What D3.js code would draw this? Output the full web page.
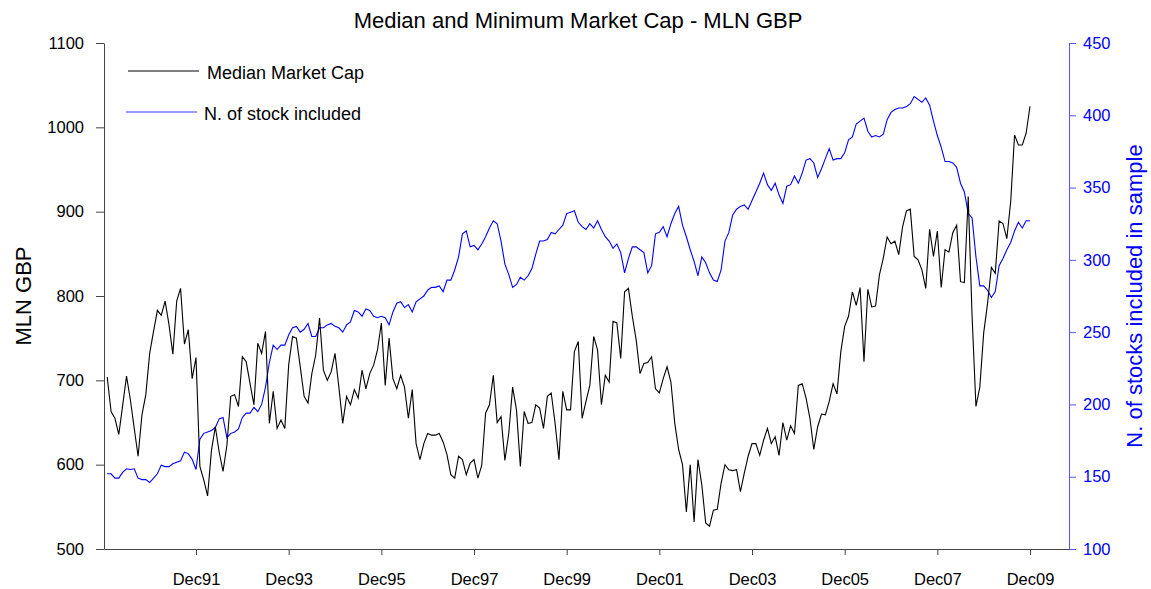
<!DOCTYPE html>
<html>
<head>
<meta charset="utf-8">
<script src="https://cdn.jsdelivr.net/npm/d3@7"></script>
<style>
  body { margin: 0; background: #fff; }
  svg { font-family: "Liberation Sans", Arial, Helvetica, sans-serif; }
</style>
</head>
<body>
<div id="chart"></div>
<script>
// monthly observations, Jan 1990 .. Dec 2009 (index 1 = Jan90, 24 = Dec91)
const medianCap = [
  704, 663, 655, 636, 670, 705, 677, 643, 610, 659, 683, 732,
  758, 783, 777, 794, 766, 731, 794, 809, 743, 760, 702, 727,
  598, 582, 563, 617, 645, 615, 592, 623, 681, 683, 669, 728,
  722, 696, 671, 744, 732, 758, 649, 687, 643, 653, 643, 718,
  752, 750, 716, 681, 673, 708, 730, 774, 712, 700, 710, 732,
  692, 649, 681, 671, 689, 679, 712, 690, 708, 718, 736, 768,
  694, 750, 702, 690, 706, 692, 655, 689, 625, 606, 625, 637,
  635, 635, 637, 627, 612, 588, 584, 610, 606, 588, 602, 606,
  584, 599, 661, 671, 706, 650, 657, 605, 637, 692, 665, 598,
  663, 649, 650, 671, 667, 643, 681, 685, 649, 606, 687, 665,
  665, 734, 746, 655, 675, 694, 752, 736, 671, 706, 698, 770,
  768, 726, 805, 809, 776, 748, 708, 720, 721, 728, 690, 685,
  702, 716, 698, 649, 618, 600, 544, 600, 532, 606, 576, 531,
  527, 546, 547, 578, 600, 594, 593, 594, 568, 590, 610, 625,
  625, 611, 629, 643, 625, 633, 611, 650, 629, 646, 637, 694,
  696, 679, 655, 618, 645, 660, 659, 675, 696, 684, 734, 764,
  776, 805, 789, 810, 722, 808, 787, 788, 825, 845, 870, 862,
  865, 849, 882, 901, 903, 847, 843, 831, 809, 879, 847, 877,
  810, 855, 852, 875, 884, 817, 816, 918, 776, 669, 692, 756,
  791, 834, 827, 889, 886, 868, 912, 991, 979, 979, 993, 1025
];

const stocksIncluded = [
  152, 152, 149, 149, 153, 155.5, 155, 155.5, 149, 148, 148, 146,
  149, 152, 158, 157, 157, 159, 160, 161, 167, 166, 162, 155,
  176, 180, 181, 182, 184, 190, 191, 177, 180, 181, 183, 191,
  194, 194, 198, 195, 200, 212, 229, 241, 238, 241, 241, 248,
  253, 254, 250, 252, 256, 247, 247, 253, 253, 255, 256, 254,
  253, 250, 255, 257, 265, 264, 261, 266, 265, 261, 260, 261,
  260, 255, 264, 270, 271, 267, 269, 264, 271, 273, 275, 279,
  281, 281, 282, 278, 286, 286, 293, 302, 318, 320, 309, 310,
  307, 311, 316, 322, 327, 325, 313, 297, 290, 281, 283, 288,
  286, 289, 294, 304, 313, 313, 314, 319, 318, 321, 324, 332,
  333, 334, 326, 323, 321, 325, 322, 327, 321, 316, 313, 308,
  311, 305, 291, 301, 309, 309, 307, 305, 291, 296, 318, 319,
  323, 316, 325, 332, 337, 324, 316, 307, 299, 289, 302, 298,
  291, 286, 285, 293, 313, 319, 331, 335, 337, 338, 335, 341,
  347, 353, 360, 352, 348, 353, 345, 339, 351, 352, 358, 353,
  360, 369, 370, 367, 357, 363, 370, 377, 369, 370, 370, 374,
  383, 385, 394, 396, 398, 389, 385, 386, 385, 387, 397, 402,
  404, 405, 405, 406, 408, 413, 411, 409, 412, 407, 396, 386,
  378, 368, 368, 367, 364, 353, 347, 332, 329, 302, 282, 282,
  279, 274, 278, 296, 301, 307, 312, 320, 326, 322, 327, 327
];

const xTickIndex = [24, 48, 72, 96, 120, 144, 168, 192, 216, 240];
const xTickLabels = ["Dec91", "Dec93", "Dec95", "Dec97", "Dec99", "Dec01", "Dec03", "Dec05", "Dec07", "Dec09"];
const leftTicks = [500, 600, 700, 800, 900, 1000, 1100];
const rightTicks = [100, 150, 200, 250, 300, 350, 400, 450];
const seriesNames = ["Median Market Cap", "N. of stock included"];

const W = 1151, H = 589;
const margin = { top: 43, right: 82, bottom: 40, left: 104 };
const w = W - margin.left - margin.right;
const h = H - margin.top - margin.bottom;
const BLUE = '#0000ff';

const svg = d3.select('#chart').append('svg')
  .attr('width', W).attr('height', H);

const g = svg.append('g')
  .attr('transform', `translate(${margin.left},${margin.top})`);

const x = d3.scaleLinear().domain([0.17, 250.1]).range([0, w]);
const yL = d3.scaleLinear().domain([500, 1100]).range([h, 0]);
const yR = d3.scaleLinear().domain([100, 450]).range([h, 0]);

// Title
svg.append('text')
  .attr('x', 578).attr('y', 28)
  .attr('text-anchor', 'middle')
  .attr('font-size', '22px')
  .text('Median and Minimum Market Cap - MLN GBP');

// Left axis
const axL = g.append('g')
  .call(d3.axisLeft(yL).tickValues(leftTicks).tickFormat(d3.format('d'))
    .tickSize(8).tickPadding(12).tickSizeOuter(0));
axL.select('.domain').attr('stroke', '#444');
axL.selectAll('.tick line').attr('stroke', '#444');
axL.selectAll('text').attr('font-size', '16.5px').attr('fill', '#000')
  .attr('font-family', '"Liberation Sans", Arial, sans-serif');

// Right axis
const axR = g.append('g')
  .attr('transform', `translate(${w},0)`)
  .call(d3.axisRight(yR).tickValues(rightTicks).tickFormat(d3.format('d'))
    .tickSize(7).tickPadding(7).tickSizeOuter(0));
axR.select('.domain').attr('stroke', '#5555ff');
axR.selectAll('.tick line').attr('stroke', '#5555ff');
axR.selectAll('text').attr('font-size', '16.5px').attr('fill', BLUE)
  .attr('font-family', '"Liberation Sans", Arial, sans-serif');

// Bottom axis
const axB = g.append('g')
  .attr('transform', `translate(0,${h})`)
  .call(d3.axisBottom(x).tickValues(xTickIndex)
    .tickFormat((d, i) => xTickLabels[i])
    .tickSize(6).tickPadding(18).tickSizeOuter(0));
axB.select('.domain').attr('stroke', '#444');
axB.selectAll('.tick line').attr('stroke', '#444');
axB.selectAll('text').attr('font-size', '16.5px').attr('fill', '#000')
  .attr('font-family', '"Liberation Sans", Arial, sans-serif');

// Axis titles
svg.append('text')
  .attr('transform', `translate(31,${margin.top + h / 2}) rotate(-90)`)
  .attr('text-anchor', 'middle')
  .attr('font-size', '22px')
  .text('MLN GBP');

svg.append('text')
  .attr('transform', `translate(1142,${margin.top + h / 2}) rotate(-90)`)
  .attr('text-anchor', 'middle')
  .attr('font-size', '22px')
  .attr('fill', BLUE)
  .text('N. of stocks included in sample');

// Lines
const lineL = d3.line().x((d, i) => x(i + 1)).y(d => yL(d));
const lineR = d3.line().x((d, i) => x(i + 1)).y(d => yR(d));

g.append('path')
  .datum(stocksIncluded)
  .attr('d', lineR)
  .attr('fill', 'none')
  .attr('stroke', BLUE)
  .attr('stroke-width', 1.1);

g.append('path')
  .datum(medianCap)
  .attr('d', lineL)
  .attr('fill', 'none')
  .attr('stroke', '#000')
  .attr('stroke-width', 1.1);

// Legend
const legend = svg.append('g');
[{ y: 71, c: '#000', x1: 128, tx: 207 }, { y: 112, c: '#7777ff', x1: 126, tx: 204 }]
  .forEach((d, i) => {
    legend.append('line')
      .attr('x1', d.x1).attr('x2', d.x1 + 71)
      .attr('y1', d.y).attr('y2', d.y)
      .attr('stroke', d.c).attr('stroke-width', i ? 1.6 : 1);
    legend.append('text')
      .attr('x', d.tx).attr('y', d.y + 8)
      .attr('font-size', '18px')
      .text(seriesNames[i]);
  });
</script>
</body>
</html>
